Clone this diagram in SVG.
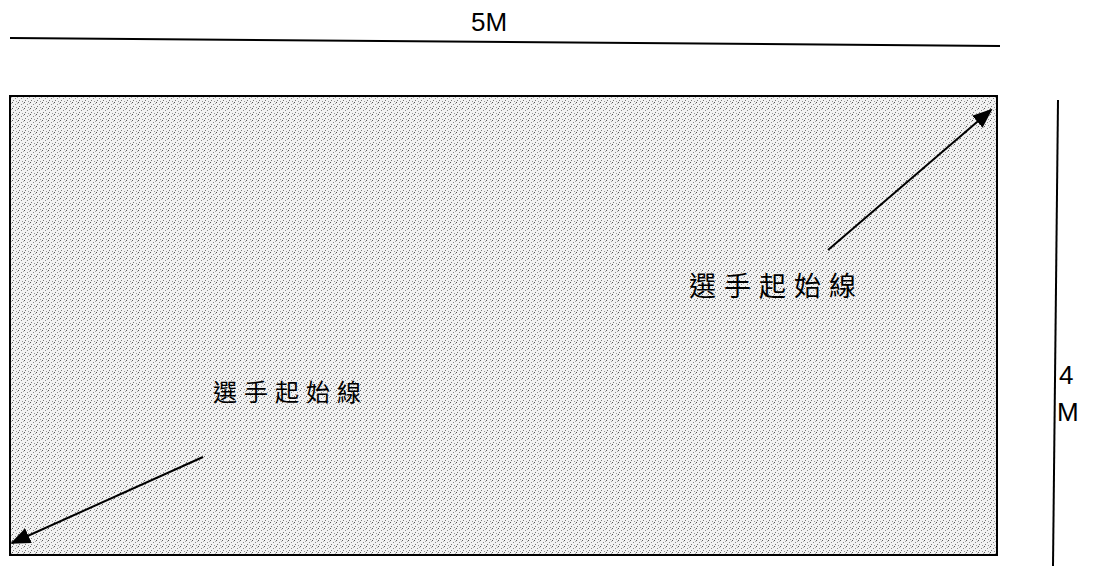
<svg xmlns="http://www.w3.org/2000/svg" width="1105" height="566" viewBox="0 0 1105 566">
<style>
.ln{stroke:#000;stroke-width:2;fill:none}
.lbl{font-family:"Noto Sans CJK TC","Noto Sans CJK SC",sans-serif;fill:#000}
.dim{font-family:"Liberation Sans",Arial,sans-serif;font-size:26px;fill:#000}
</style>
<defs>
<pattern id="dots" width="6" height="6" patternUnits="userSpaceOnUse">
<rect width="6" height="6" fill="#f2f2f2"/>
<rect x="0" y="0" width="1" height="1" fill="#555"/>
<rect x="3" y="2" width="1" height="1" fill="#888"/>
<rect x="1" y="4" width="1" height="1" fill="#777"/>
<rect x="4" y="5" width="1" height="1" fill="#999"/>
<rect x="5" y="1" width="1" height="1" fill="#aaa"/>
</pattern>
<marker id="ahb" markerWidth="20" markerHeight="16" refX="18" refY="8" orient="auto" markerUnits="userSpaceOnUse" viewBox="0 0 20 16">
<path d="M0,0 L20,8 L0,16 z" fill="#000"/>
</marker>
</defs>
<rect width="1105" height="566" fill="#fff"/>
<g id="field">
<rect x="10" y="96" width="987" height="459" fill="url(#dots)" stroke="#000" stroke-width="2"/>
</g>
<g id="width-dim">
<line class="ln" x1="10" y1="38" x2="1000" y2="46"/>
<text class="dim" x="471" y="31">5M</text>
</g>
<g id="height-dim">
<line class="ln" x1="1058" y1="100" x2="1053" y2="566"/>
<text class="dim" x="1059" y="384">4</text>
<text class="dim" x="1057" y="421">M</text>
</g>
<g id="label-top">
<text class="lbl" x="689" y="296" font-size="27" letter-spacing="8">選手起始線</text>
</g>
<g id="label-bottom">
<text class="lbl" x="213" y="401" font-size="24" letter-spacing="7">選手起始線</text>
</g>
<g id="connectors">
<line class="ln" x1="828" y1="250" x2="991" y2="110" marker-end="url(#ahb)"/>
<line class="ln" x1="203" y1="457" x2="12" y2="543" marker-end="url(#ahb)"/>
</g>
</svg>
